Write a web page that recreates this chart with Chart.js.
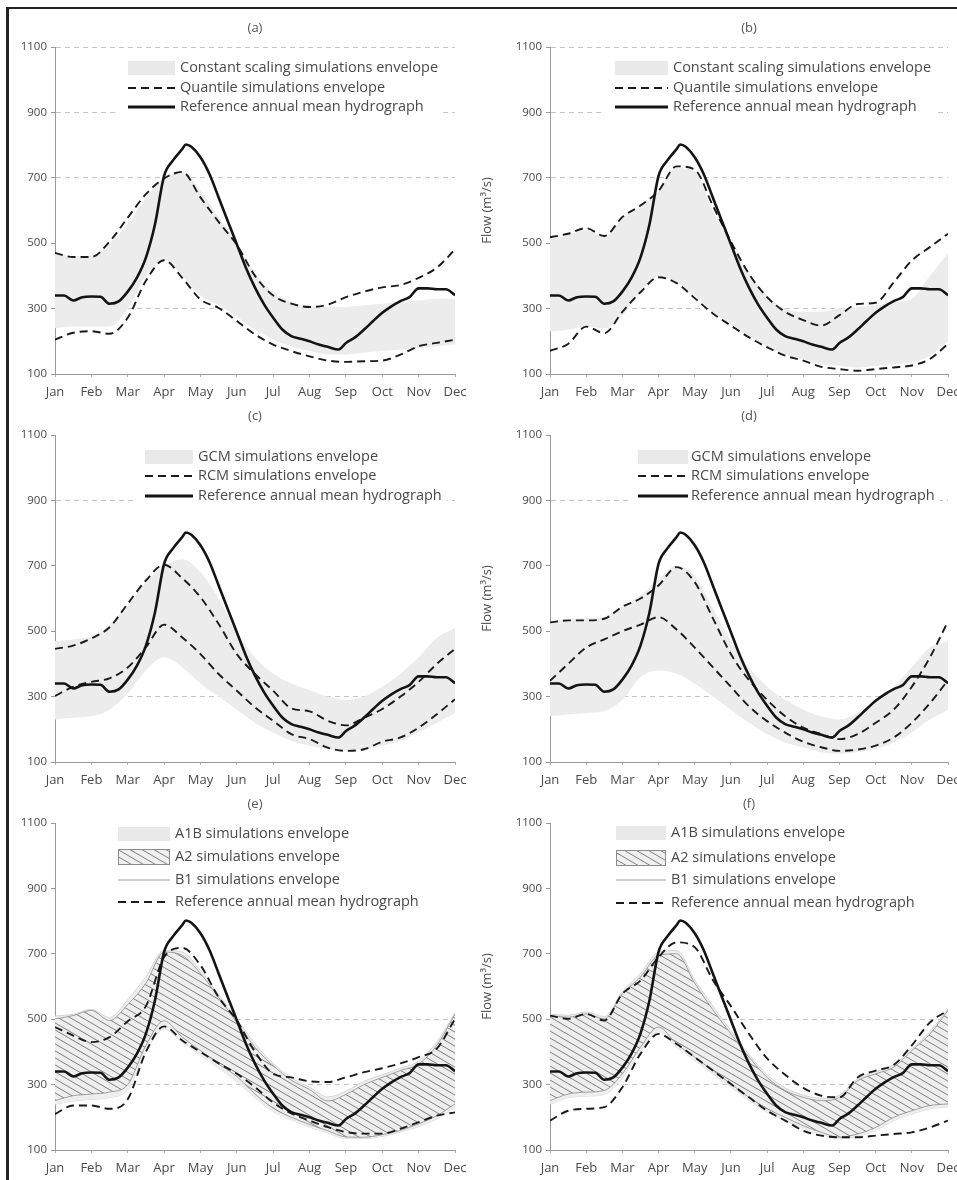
<!DOCTYPE html>
<html>
<head>
<meta charset="utf-8">
<title>Annual mean hydrographs</title>
<script src="https://cdn.jsdelivr.net/npm/chart.js@4.4.1/dist/chart.umd.min.js"></script>
<style>
  html, body { margin: 0; padding: 0; background: #fff; }
  #fig { position: relative; width: 957px; height: 1180px; overflow: hidden; background: #fff; }
  #fig canvas { position: absolute; }
  #frame { position: absolute; left: 6px; top: 7px; width: 980px; height: 1200px;
           border-top: 2px solid #222; border-left: 3px solid #222; z-index: 5; pointer-events: none; }
</style>
</head>
<body>
<div id="fig"><div id="frame"></div></div>
<script>
// ---------- data ----------
const monthLabels = ['Jan','Feb','Mar','Apr','May','Jun','Jul','Aug','Sep','Oct','Nov','Dec'];

// reference annual mean hydrograph (month position, flow m3/s)
const refMonth = [0,0.25,0.5,0.75,1,1.25,1.5,1.75,2,2.25,2.5,2.75,3,3.25,3.5,3.6,3.75,4,4.25,4.5,4.75,
                  5,5.25,5.5,5.75,6,6.25,6.5,6.75,7,7.25,7.5,7.8,8,8.25,8.5,8.75,9,9.25,9.5,9.75,10,10.25,10.5,10.75,11];
const refFlow  = [340,340,325,335,337,336,315,322,352,394,456,558,706,754,788,802,795,763,711,640,568,
                  497,425,364,313,272,236,216,208,200,190,183,175,195,212,236,262,287,307,323,335,362,362,359,359,341];

// half-month positions used by every envelope series
const envMonth = [0,0.5,1,1.5,2,2.5,3,3.5,4,4.5,5,5.5,6,6.5,7,7.5,8,8.5,9,9.5,10,10.5,11];

// (a) quantile / constant scaling
const qsUpperA = [470,458,458,505,578,650,698,718,640,565,495,400,340,315,305,312,335,352,365,372,394,425,481];
const qsLowerA = [205,226,231,223,272,385,448,394,328,302,262,221,190,170,154,141,137,139,141,159,185,195,205];
const csUpperA = [470,460,460,500,560,640,700,715,660,580,500,410,350,320,305,305,305,310,315,320,325,330,330];
const csLowerA = [240,245,245,245,300,400,450,400,340,310,275,235,205,185,170,160,160,165,170,175,180,185,190];

// (b) quantile / constant scaling
const qsUpperB = [518,529,546,522,580,615,660,735,725,615,505,406,335,290,265,248,280,314,318,380,447,488,529];
const qsLowerB = [171,192,245,225,290,350,396,378,332,285,248,212,182,156,141,122,115,110,115,120,126,146,192];
const csUpperB = [515,525,540,520,575,610,660,730,720,600,500,410,340,300,290,290,300,305,310,320,330,400,470];
const csLowerB = [230,235,245,240,280,350,400,380,340,290,250,215,185,160,145,130,125,120,125,130,135,155,200];

// (c) RCM / GCM
const rcmUpperC = [446,456,478,512,584,655,703,662,604,522,430,369,318,264,255,226,212,235,262,300,345,400,446];
const rcmLowerC = [302,330,345,356,389,451,520,481,430,369,318,267,226,185,170,144,134,139,162,175,205,246,292];
const gcmUpperC = [470,475,485,520,580,650,700,720,680,600,500,420,370,340,320,300,290,300,330,370,420,480,510];
const gcmLowerC = [230,235,240,260,310,380,420,390,340,300,260,220,190,165,150,140,135,140,150,165,190,220,250];

// (d) RCM / GCM
const rcmUpperD = [527,533,533,538,575,600,640,696,650,540,430,350,290,240,205,185,170,185,220,260,330,420,530];
const rcmLowerD = [348,400,450,475,500,520,543,505,450,390,330,270,225,190,162,145,134,138,150,175,220,280,350];
const gcmUpperD = [530,535,540,545,575,610,660,700,670,570,470,390,330,290,260,240,230,250,280,330,390,450,470];
const gcmLowerD = [240,245,250,255,290,360,380,370,340,300,260,220,185,160,145,130,125,130,140,160,190,230,260];

// (e) emission scenarios
const a1bUpperE = [510,515,530,505,560,630,710,705,650,575,500,425,365,320,292,262,280,310,330,350,372,430,520];
const a1bLowerE = [240,250,255,260,285,400,470,430,390,350,310,260,218,192,170,152,135,135,142,155,172,195,230];
const a2UpperE  = [501,511,527,496,545,610,705,695,640,567,490,414,358,313,285,250,270,300,322,343,363,420,516];
const a2LowerE  = [251,266,271,277,300,420,495,445,404,363,325,271,228,200,178,159,140,139,147,160,180,205,241];
const b1UpperE  = [476,450,430,445,494,540,690,718,665,567,496,400,333,322,310,308,322,338,350,365,384,410,501];
const b1LowerE  = [210,236,236,226,255,400,478,435,400,365,333,292,245,212,190,170,155,150,150,165,185,205,215];

// (f) emission scenarios
const a1bUpperF = [515,512,522,508,585,640,705,710,620,540,465,392,330,290,268,258,268,318,340,360,410,462,532];
const a1bLowerF = [240,260,265,270,320,400,462,414,374,333,292,252,216,190,166,148,134,142,160,190,210,226,232];
const a2UpperF  = [511,506,516,501,578,629,695,700,610,529,455,384,322,282,261,251,261,312,333,353,404,455,527];
const a2LowerF  = [251,271,277,282,333,414,476,424,384,343,302,261,226,200,174,154,139,149,169,200,220,236,241];
const b1UpperF  = [511,501,516,496,578,618,690,735,720,620,540,455,380,330,290,266,261,322,343,360,420,490,527];
const b1LowerF  = [190,220,226,231,292,394,455,424,384,343,302,261,220,190,159,144,139,139,144,149,154,169,190];

// legend texts
const legendScaling  = ['Constant scaling simulations envelope', 'Quantile simulations envelope', 'Reference annual mean hydrograph'];
const legendModels   = ['GCM simulations envelope', 'RCM simulations envelope', 'Reference annual mean hydrograph'];
const legendScenario = ['A1B simulations envelope', 'A2 simulations envelope', 'B1 simulations envelope', 'Reference annual mean hydrograph'];

const yAxisTitle = 'Flow (m\u00B3/s)';

// ---------- styling helpers ----------
const FONT = "'Open Sans', 'Noto Sans', sans-serif";
const TEXT = '#4a4a4a';
const ENV_GRAY = '#ececec';

function makeHatch() {
  const c = document.createElement('canvas');
  const w = 12, h = 7;
  c.width = w; c.height = h;
  const g = c.getContext('2d');
  g.strokeStyle = '#808080';
  g.lineWidth = 1;
  [[0,0],[-w,0],[w,0],[0,-h],[0,h]].forEach(([dx, dy]) => {
    g.beginPath(); g.moveTo(dx, dy); g.lineTo(dx + w, dy + h); g.stroke();
  });
  return g.createPattern(c, 'repeat');
}
const HATCH = makeHatch();

const pts = (xs, ys) => xs.map((x, i) => ({ x, y: ys[i] }));

function refLine() {
  return { data: pts(refMonth, refFlow), borderColor: '#141414', borderWidth: 2.6,
           pointRadius: 0, fill: false, cubicInterpolationMode: 'monotone' };
}
function dashLine(ys) {
  return { data: pts(envMonth, ys), borderColor: '#1a1a1a', borderWidth: 1.9, borderDash: [8, 5],
           pointRadius: 0, fill: false, cubicInterpolationMode: 'monotone' };
}
function bandTop(ys, bg, edge, edgeWidth) {
  return { data: pts(envMonth, ys), backgroundColor: bg, borderColor: edge || 'rgba(0,0,0,0)',
           borderWidth: edgeWidth || 0, pointRadius: 0, fill: '+1', cubicInterpolationMode: 'monotone' };
}
function bandBottom(ys, edge, edgeWidth) {
  return { data: pts(envMonth, ys), borderColor: edge || 'rgba(0,0,0,0)', borderWidth: edgeWidth || 0,
           pointRadius: 0, fill: false, cubicInterpolationMode: 'monotone' };
}

// ---------- panels ----------
const LEFT = { x: 9, w: 469, l: 55, r: 455 };
const RIGHT = { x: 478, w: 479, l: 550, r: 948 };
const ROW = [
  { y: 10, h: 395, t: 47, b: 374 },
  { y: 405, h: 388, t: 435, b: 762 },
  { y: 793, h: 387, t: 823, b: 1150 }
];

const panels = [
  { tag: '(a)', col: LEFT, row: ROW[0], yTitle: false, grid: [300, 700, 900, 1100],
    legend: { texts: legendScaling, kinds: ['fill', 'dash', 'solid'], sx0: 73, sx1: 120, tx: 125, rows: [21, 41, 60] },
    datasets: [refLine(), dashLine(qsUpperA), dashLine(qsLowerA), bandTop(csUpperA, ENV_GRAY), bandBottom(csLowerA)] },
  { tag: '(b)', col: RIGHT, row: ROW[0], yTitle: true, grid: [300, 700, 900, 1100],
    legend: { texts: legendScaling, kinds: ['fill', 'dash', 'solid'], sx0: 65, sx1: 118, tx: 123, rows: [21, 41, 60] },
    datasets: [refLine(), dashLine(qsUpperB), dashLine(qsLowerB), bandTop(csUpperB, ENV_GRAY), bandBottom(csLowerB)] },
  { tag: '(c)', col: LEFT, row: ROW[1], yTitle: false, grid: [300, 900],
    legend: { texts: legendModels, kinds: ['fill', 'dash', 'solid'], sx0: 90, sx1: 138, tx: 143, rows: [22, 41, 61] },
    datasets: [refLine(), dashLine(rcmUpperC), dashLine(rcmLowerC), bandTop(gcmUpperC, ENV_GRAY), bandBottom(gcmLowerC)] },
  { tag: '(d)', col: RIGHT, row: ROW[1], yTitle: true, grid: [300, 900],
    legend: { texts: legendModels, kinds: ['fill', 'dash', 'solid'], sx0: 88, sx1: 138, tx: 141, rows: [22, 41, 61] },
    datasets: [refLine(), dashLine(rcmUpperD), dashLine(rcmLowerD), bandTop(gcmUpperD, ENV_GRAY), bandBottom(gcmLowerD)] },
  { tag: '(e)', col: LEFT, row: ROW[2], yTitle: false, grid: [300, 500],
    legend: { texts: legendScenario, kinds: ['fill', 'hatch', 'thin', 'dash'], sx0: 63, sx1: 115, tx: 120, rows: [11, 34, 57, 79] },
    datasets: [refLine(), dashLine(b1UpperE), dashLine(b1LowerE),
               bandTop(a2UpperE, HATCH, '#8c8c8c', 0.8), bandBottom(a2LowerE, '#8c8c8c', 0.8),
               bandTop(a1bUpperE, '#eeeeee', '#cccccc', 0.8), bandBottom(a1bLowerE, '#cccccc', 0.8)] },
  { tag: '(f)', col: RIGHT, row: ROW[2], yTitle: true, grid: [300, 500],
    legend: { texts: legendScenario, kinds: ['fill', 'hatch', 'thin', 'dash'], sx0: 66, sx1: 116, tx: 121, rows: [10, 35, 57, 80] },
    datasets: [refLine(), dashLine(b1UpperF), dashLine(b1LowerF),
               bandTop(a2UpperF, HATCH, '#8c8c8c', 0.8), bandBottom(a2LowerF, '#8c8c8c', 0.8),
               bandTop(a1bUpperF, '#eeeeee', '#cccccc', 0.8), bandBottom(a1bLowerF, '#cccccc', 0.8)] }
];

// panel letter + in-plot legend
function makeDecor(p) {
  const LFONT = `14.5px ${FONT}`;
  function legendWidth(ctx) {
    ctx.font = LFONT;
    return Math.max(...p.legend.texts.map(t => ctx.measureText(t).width));
  }
  return {
    id: 'decor' + p.tag,
    beforeDatasetsDraw(chart) {
      const { ctx, chartArea: a } = chart;
      const L = p.legend;
      ctx.save();
      const w = legendWidth(ctx);
      const x0 = a.left + L.sx0 - 10, x1 = Math.min(a.left + L.tx + w + 5, a.right);
      const y0 = a.top + L.rows[0] - 10, y1 = a.top + L.rows[L.rows.length - 1] + 10;
      ctx.fillStyle = '#fff';
      ctx.fillRect(x0, y0, x1 - x0, y1 - y0);
      ctx.restore();
    },
    afterDraw(chart) {
      const { ctx, chartArea: a } = chart;
      const L = p.legend;
      ctx.save();
      // panel letter
      ctx.font = `13px ${FONT}`;
      ctx.fillStyle = '#555';
      ctx.textAlign = 'center';
      ctx.textBaseline = 'middle';
      ctx.fillText(p.tag, (a.left + a.right) / 2, a.top - 19);
      // legend rows
      L.texts.forEach((text, i) => {
        const y = a.top + L.rows[i];
        const sx0 = a.left + L.sx0, sx1 = a.left + L.sx1;
        const kind = L.kinds[i];
        ctx.save();
        if (kind === 'fill') {
          ctx.fillStyle = '#e9e9e9';
          ctx.fillRect(sx0, y - 7, sx1 - sx0, 14);
        } else if (kind === 'hatch') {
          ctx.fillStyle = '#f0f0f0';
          ctx.fillRect(sx0, y - 8, sx1 - sx0, 16);
          ctx.fillStyle = HATCH;
          ctx.fillRect(sx0, y - 8, sx1 - sx0, 16);
          ctx.strokeStyle = '#8c8c8c';
          ctx.lineWidth = 1;
          ctx.strokeRect(sx0 + 0.5, y - 7.5, sx1 - sx0 - 1, 15);
        } else {
          ctx.beginPath();
          ctx.moveTo(sx0, y);
          ctx.lineTo(sx1, y);
          if (kind === 'dash') { ctx.setLineDash([8, 5]); ctx.lineWidth = 1.9; ctx.strokeStyle = '#1a1a1a'; }
          else if (kind === 'solid') { ctx.lineWidth = 3; ctx.strokeStyle = '#141414'; }
          else { ctx.lineWidth = 1; ctx.strokeStyle = '#a0a0a0'; }
          ctx.stroke();
        }
        ctx.restore();
        ctx.font = LFONT;
        ctx.fillStyle = TEXT;
        ctx.textAlign = 'left';
        ctx.textBaseline = 'middle';
        ctx.fillText(text, a.left + L.tx, y);
      });
      ctx.restore();
    }
  };
}

const fig = document.getElementById('fig');
panels.forEach(p => {
  const cx = p.col.x, cy = p.row.y, cw = p.col.w, ch = p.row.h;
  const yw = p.col.l - cx;   // width of the y scale box
  const xh = 26;             // height of the x scale box
  const canvas = document.createElement('canvas');
  canvas.width = cw; canvas.height = ch;
  canvas.style.left = cx + 'px'; canvas.style.top = cy + 'px';
  canvas.style.width = cw + 'px'; canvas.style.height = ch + 'px';
  fig.appendChild(canvas);

  new Chart(canvas, {
    type: 'line',
    data: { datasets: p.datasets },
    plugins: [makeDecor(p)],
    options: {
      responsive: false,
      animation: false,
      events: [],
      layout: { padding: { left: 0, top: p.row.t - cy, right: cx + cw - p.col.r, bottom: cy + ch - p.row.b - xh } },
      plugins: { legend: { display: false }, tooltip: { enabled: false } },
      scales: {
        x: {
          type: 'linear', min: 0, max: 11,
          ticks: { stepSize: 1, autoSkip: false, maxRotation: 0, padding: 7, color: TEXT,
                   font: { family: FONT, size: 13 }, callback: v => monthLabels[Math.round(v)] },
          grid: { drawOnChartArea: false, drawTicks: true, tickLength: 3, tickColor: '#b0b0b0' },
          border: { color: '#9a9a9a', width: 1 },
          afterFit(s) { s.height = xh; s.paddingLeft = 0; s.paddingRight = 0; }
        },
        y: {
          type: 'linear', min: 100, max: 1100,
          ticks: { stepSize: 200, padding: 4, color: TEXT, font: { family: FONT, size: 11.5 },
                   callback: v => String(v) },
          grid: { color: c => (c.tick && p.grid.includes(c.tick.value)) ? '#c6c6c6' : 'rgba(0,0,0,0)',
                  lineWidth: 1, tickLength: 4, tickColor: '#9a9a9a' },
          border: { color: '#9a9a9a', width: 1, dash: [5, 4] },
          title: p.yTitle ? { display: true, text: yAxisTitle, color: TEXT,
                              font: { family: FONT, size: 13 }, padding: { top: 1, bottom: 0 } }
                          : { display: false },
          afterFit(s) { s.width = yw; s.paddingTop = 0; s.paddingBottom = 0; }
        }
      }
    }
  });
});
</script>
</body>
</html>
